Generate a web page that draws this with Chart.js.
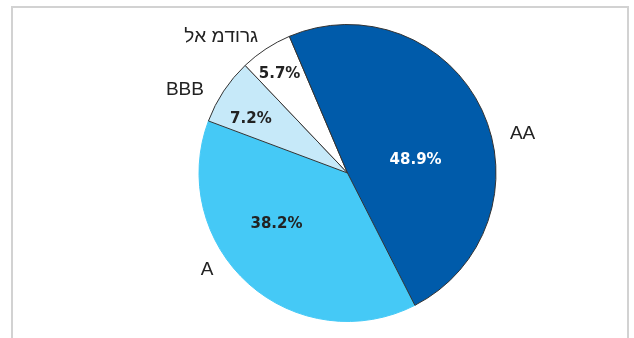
<!DOCTYPE html>
<html>
<head>
<meta charset="utf-8">
<script src="https://cdn.jsdelivr.net/npm/chart.js@4.4.1/dist/chart.umd.min.js"></script>
<style>
  html, body { margin: 0; padding: 0; background: #fff; }
  #wrap { position: relative; width: 634px; height: 338px; }
  #frame { position: absolute; left: 11px; top: 6px; width: 618px; height: 340px;
           border: 2px solid #d2d2d2; border-bottom: none; box-sizing: border-box; }
  canvas { position: absolute; left: 0; top: 0; }
</style>
</head>
<body>
<div id="wrap">
  <div id="frame"></div>
  <canvas id="c" width="634" height="338"></canvas>
</div>
<script>
// ── Datos (orden de dibujo: A primero, AA al final) ─────────
const labels = ['A', 'BBB', 'לא מדורג', 'AA'];
const values = [38.2, 7.2, 5.7, 48.9];
const colors = ['#45c9f6', '#c6e9f9', '#ffffff', '#005baa'];
const edgeColors = ['#45c9f6', '#333333', '#333333', '#333333'];
const pctColors = ['#222222', '#222222', '#222222', '#ffffff'];

// Posición de etiquetas: [fracción del ángulo del sector, fracción del radio]
const pctPos = [[0.60, 0.58], [0.36, 0.75], [0.47, 0.82], [0.57, 0.47]];
// Etiquetas de categoría fuera: [fracción del ángulo, px fuera del borde]
const namePos = [[0.60, 22], [0.25, 34], [0.03, 37], [0.57, 31]];

const F = v => v.toFixed(1) + '%';

// El original muestra el hebreo en orden visual izquierda→derecha:
// dibujamos carácter a carácter para evitar el reordenamiento bidi.
function visualText(ctx, s, cx, cy) {
  const chars = [...s];
  const w = chars.map(c => ctx.measureText(c).width);
  let x = cx - w.reduce((a, b) => a + b, 0) / 2;
  ctx.textAlign = 'left';
  chars.forEach((c, i) => { ctx.fillText(c, x, cy); x += w[i]; });
  ctx.textAlign = 'center';
}

const labelPlugin = {
  id: 'sliceLabels',
  afterDatasetsDraw(chart) {
    const ctx = chart.ctx;
    const meta = chart.getDatasetMeta(0);
    ctx.save();
    ctx.textAlign = 'center';
    ctx.textBaseline = 'middle';
    meta.data.forEach((arc, i) => {
      const { x, y, startAngle, endAngle, outerRadius } = arc.getProps(['x', 'y', 'startAngle', 'endAngle', 'outerRadius'], true);
      const span = endAngle - startAngle;
      // porcentaje
      let a = startAngle + span * pctPos[i][0];
      let r = outerRadius * pctPos[i][1];
      ctx.font = 'bold 15px "DejaVu Sans", Verdana, sans-serif';
      ctx.fillStyle = pctColors[i];
      ctx.fillText(F(values[i]), x + Math.cos(a) * r, y + Math.sin(a) * r + 2);
      // nombre
      a = startAngle + span * namePos[i][0];
      r = outerRadius + namePos[i][1];
      ctx.font = '19px "Liberation Sans", Arial, sans-serif';
      ctx.fillStyle = '#222222';
      visualText(ctx, labels[i], x + Math.cos(a) * r, y + Math.sin(a) * r);
    });
    ctx.restore();
  }
};

new Chart(document.getElementById('c').getContext('2d'), {
  type: 'pie',
  data: {
    labels,
    datasets: [{ data: values, backgroundColor: colors, borderColor: edgeColors, borderWidth: 1 }]
  },
  options: {
    responsive: false, animation: false,
    rotation: 153,
    layout: { padding: { left: 61, right: 0, top: 24, bottom: 16 } },
    plugins: { legend: { display: false }, tooltip: { enabled: false } }
  },
  plugins: [labelPlugin]
});
</script>
</body>
</html>
